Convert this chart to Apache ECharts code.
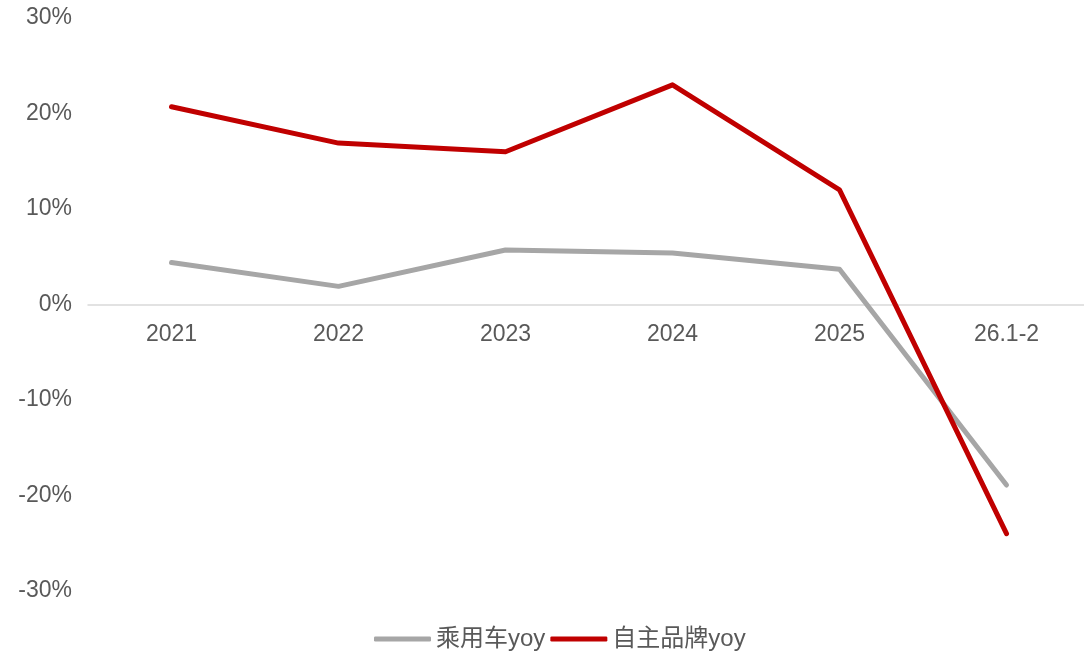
<!DOCTYPE html>
<html>
<head>
<meta charset="utf-8">
<style>
  html, body { margin: 0; padding: 0; background: #fff; overflow: hidden; width: 1084px; height: 658px; }
  #chart { width: 1090px; height: 658px; }
</style>
<script src="https://cdn.jsdelivr.net/npm/echarts@6/dist/echarts.min.js"></script>
</head>
<body>
<div id="chart"></div>
<script>
// Year-over-year growth, in percent
const categories = ['2021', '2022', '2023', '2024', '2025', '26.1-2'];
const passengerYoy = [4.4, 1.9, 5.7, 5.4, 3.7, -18.9];
const domesticBrandYoy = [20.7, 16.9, 16.0, 23.0, 12.0, -24.0];
const seriesNames = ['乘用车yoy', '自主品牌yoy'];

const textColor = '#595959';
const fontFamily = 'Liberation Sans, Arial, Noto Sans CJK SC, sans-serif';
const fontSize = 23;

const chart = echarts.init(document.getElementById('chart'), null, { renderer: 'canvas' });
chart.setOption({
  animation: false,
  backgroundColor: '#ffffff',
  grid: { left: 88, right: 0, top: 18, bottom: 67, containLabel: false },
  legend: {
    bottom: 2,
    left: 369,
    itemWidth: 57,
    itemHeight: 5,
    itemGap: 5,
    icon: 'roundRect',
    textStyle: { color: textColor, fontSize: 24, fontFamily: fontFamily },
    data: seriesNames
  },
  xAxis: {
    type: 'category',
    data: categories,
    boundaryGap: true,
    axisLine: { onZero: true, lineStyle: { color: '#d9d9d9', width: 1.5 } },
    axisTick: { show: false },
    // category labels sit just under the zero line
    axisLabel: { color: textColor, fontSize: fontSize, fontFamily: fontFamily, margin: -268 }
  },
  yAxis: {
    type: 'value',
    min: -30,
    max: 30,
    interval: 10,
    axisLine: { show: false },
    axisTick: { show: false },
    splitLine: { show: false },
    axisLabel: {
      color: textColor, fontSize: fontSize, fontFamily: fontFamily, margin: 16,
      padding: [4, 0, 0, 0],
      formatter: v => v + '%'
    }
  },
  series: [
    {
      name: seriesNames[0],
      type: 'line',
      data: passengerYoy,
      symbol: 'none',
      color: '#a6a6a6',
      lineStyle: { width: 5, color: '#a6a6a6', cap: 'round', join: 'round' }
    },
    {
      name: seriesNames[1],
      type: 'line',
      data: domesticBrandYoy,
      symbol: 'none',
      color: '#c00000',
      lineStyle: { width: 5, color: '#c00000', cap: 'round', join: 'round' }
    }
  ]
});
</script>
</body>
</html>
